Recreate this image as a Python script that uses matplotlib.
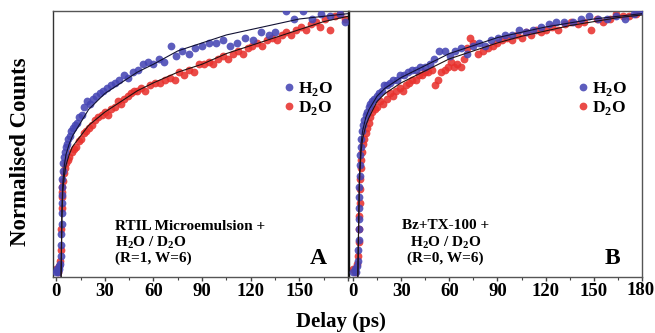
import matplotlib
matplotlib.use("Agg")
import matplotlib.pyplot as plt

plt.rcParams["font.family"] = ["Liberation Serif", "DejaVu Serif"]
plt.rcParams["font.weight"] = "bold"
plt.rcParams["mathtext.fontset"] = "custom"
plt.rcParams["mathtext.rm"] = "Liberation Serif:bold"
plt.rcParams["mathtext.bf"] = "Liberation Serif:bold"

# ---- panel A : RTIL microemulsion ----
tA_h2o = [0, 0.5, 1, 1.5, 2, 2.5, 3.0, 3.1, 3.2, 3.3, 3.4, 3.5, 3.6, 3.7, 3.8, 4.0, 4.3, 4.7,
          5.2, 5.8, 6.5, 7.3, 8.2, 9.2, 10.3, 11.5, 12.8, 14.2, 15.7, 17.3, 19, 20.8, 22.7,
          24.7, 26.8, 29, 31.3, 33.7, 36.2, 38.8, 41.5, 44.3, 47.2, 50.2, 53.3, 56.5, 59.8,
          63.2, 66.7, 71, 74, 77.8, 81.7, 85.7, 89.8, 94, 98.3, 102.7, 107.2, 111.8, 116.5,
          121.3, 126.2, 131.2, 135, 141.5, 146.8, 152.2, 157.7, 163.3, 169, 174.8, 178]
vA_h2o = [0.02, 0.03, 0.02, 0.04, 0.03, 0.05, 0.08, 0.12, 0.16, 0.20, 0.24, 0.28, 0.31, 0.34,
          0.37, 0.40, 0.43, 0.45, 0.47, 0.49, 0.50, 0.52, 0.53, 0.55, 0.56, 0.57, 0.58, 0.60,
          0.61, 0.64, 0.66, 0.65, 0.67, 0.68, 0.69, 0.70, 0.71, 0.72, 0.73, 0.74, 0.76, 0.75,
          0.77, 0.78, 0.80, 0.81, 0.80, 0.82, 0.81, 0.87, 0.83, 0.85, 0.84, 0.86, 0.87, 0.88,
          0.88, 0.89, 0.87, 0.88, 0.90, 0.89, 0.92, 0.91, 0.92, 1.00, 0.97, 1.00, 0.97, 0.99,
          0.98, 0.99, 0.96]
tA_d2o = [0, 1, 2, 2.6, 3.0, 3.2, 3.3, 3.4, 3.5, 3.7, 4.0, 4.5, 5.2, 6, 7, 8, 9.5, 11, 12.5,
          14, 15.5, 17, 18.5, 20, 22, 24, 26, 28, 30, 32, 34, 36, 38, 40, 42, 44, 46, 48, 50,
          52, 55, 58, 61, 64, 67, 70, 73, 76, 79, 82, 85, 88, 91, 94, 97, 100, 103, 106, 109,
          112, 115, 118, 121, 124, 127, 130, 133, 136, 139, 142, 145, 148, 151, 154, 157, 160,
          163, 166, 169, 172, 175, 178]
vA_d2o = [0.03, 0.02, 0.04, 0.06, 0.10, 0.18, 0.26, 0.30, 0.32, 0.34, 0.36, 0.39, 0.41, 0.43,
          0.44, 0.45, 0.47, 0.48, 0.49, 0.51, 0.52, 0.54, 0.55, 0.56, 0.57, 0.59, 0.60, 0.61,
          0.62, 0.61, 0.63, 0.64, 0.66, 0.65, 0.67, 0.68, 0.69, 0.70, 0.70, 0.71, 0.70, 0.72,
          0.73, 0.73, 0.74, 0.75, 0.74, 0.77, 0.76, 0.78, 0.77, 0.80, 0.80, 0.81, 0.80, 0.82,
          0.83, 0.82, 0.84, 0.85, 0.84, 0.86, 0.87, 0.88, 0.87, 0.89, 0.90, 0.89, 0.91, 0.92,
          0.91, 0.93, 0.94, 0.93, 0.95, 0.96, 0.94, 0.97, 0.93, 0.98, 0.99, 0.97]

# ---- panel B : Bz + TX-100 ----
tB_h2o = [0, 1, 2, 2.7, 3.2, 3.4, 3.5, 3.6, 3.7, 3.8, 3.9, 4.0, 4.1, 4.3, 4.5, 4.8, 5.2, 5.7,
          6.3, 7, 7.8, 8.7, 9.7, 10.8, 12, 13.3, 14.7, 16.2, 17.8, 19.5, 21.3, 23.2, 25.2,
          27.3, 29.5, 31.8, 34.2, 36.7, 39.3, 42, 44.8, 47.7, 50.7, 53.8, 57, 60.3, 63.7,
          67.2, 70.8, 74.5, 78.3, 82.2, 86.2, 90.3, 94.5, 98.8, 103.2, 107.7, 112.3, 117,
          121.8, 126.7, 131.7, 136.8, 142, 147.3, 152.7, 158.2, 163.8, 169.5, 175.3, 178.5]
vB_h2o = [0.02, 0.03, 0.02, 0.04, 0.06, 0.10, 0.14, 0.18, 0.22, 0.26, 0.30, 0.34, 0.38, 0.42,
          0.46, 0.49, 0.52, 0.55, 0.57, 0.59, 0.61, 0.62, 0.64, 0.65, 0.66, 0.67, 0.68, 0.69,
          0.70, 0.72, 0.72, 0.73, 0.74, 0.74, 0.76, 0.76, 0.77, 0.78, 0.78, 0.79, 0.79, 0.80,
          0.82, 0.85, 0.85, 0.83, 0.85, 0.86, 0.84, 0.87, 0.88, 0.87, 0.89, 0.90, 0.91, 0.91,
          0.93, 0.92, 0.93, 0.94, 0.95, 0.96, 0.96, 0.96, 0.97, 0.98, 0.97, 0.97, 0.98, 0.97,
          0.99, 1.00]
tB_d2o = [0, 1.5, 2.8, 3.3, 3.5, 3.7, 3.9, 4.1, 4.3, 4.5, 4.8, 5.2, 5.7, 6.3, 7, 7.8, 8.7,
          9.7, 10.8, 12, 13.5, 15, 17, 19, 21, 23, 25, 27, 29, 31, 33, 35, 37, 39, 41, 43, 45,
          47, 49, 51, 53, 55, 57, 59, 61, 63, 65, 67, 69, 71, 73, 75, 78, 81, 84, 87, 90, 93,
          96, 99, 102, 105, 108, 111, 114, 117, 120, 124, 128, 132, 136, 140, 144, 148, 152,
          156, 160, 164, 168, 172, 176]
vB_d2o = [0.03, 0.02, 0.05, 0.08, 0.13, 0.18, 0.23, 0.28, 0.33, 0.37, 0.41, 0.44, 0.47, 0.50,
          0.52, 0.54, 0.56, 0.58, 0.60, 0.62, 0.63, 0.64, 0.66, 0.65, 0.67, 0.69, 0.68, 0.70,
          0.71, 0.70, 0.72, 0.73, 0.74, 0.74, 0.76, 0.76, 0.77, 0.77, 0.78, 0.72, 0.74, 0.77,
          0.78, 0.79, 0.81, 0.79, 0.80, 0.79, 0.82, 0.86, 0.90, 0.88, 0.84, 0.85, 0.86, 0.87,
          0.88, 0.89, 0.90, 0.89, 0.91, 0.90, 0.92, 0.91, 0.93, 0.92, 0.93, 0.94, 0.93, 0.95,
          0.96, 0.95, 0.96, 0.93, 0.97, 0.96, 0.97, 0.99, 0.98, 0.98, 0.99]

# ---- fitted curves ----
t_fit = [3, 3.5, 4, 5, 6, 8, 10, 15, 20, 30, 40, 50, 60, 75, 90, 105, 120, 135, 150, 165, 180]
fitA_h2o = [0.0, 0.25, 0.35, 0.42, 0.46, 0.50, 0.53, 0.58, 0.63, 0.69, 0.73, 0.77, 0.80, 0.85,
            0.88, 0.91, 0.93, 0.95, 0.97, 0.98, 0.99]
fitA_d2o = [0.0, 0.22, 0.32, 0.38, 0.42, 0.46, 0.49, 0.53, 0.57, 0.62, 0.66, 0.70, 0.73, 0.77,
            0.80, 0.84, 0.87, 0.90, 0.93, 0.96, 0.98]
fitB_h2o = [0.0, 0.20, 0.38, 0.50, 0.55, 0.60, 0.63, 0.68, 0.71, 0.75, 0.78, 0.81, 0.84, 0.87,
            0.90, 0.92, 0.94, 0.955, 0.97, 0.98, 0.99]
fitB_d2o = [0.0, 0.18, 0.35, 0.47, 0.52, 0.57, 0.60, 0.66, 0.69, 0.73, 0.76, 0.79, 0.82, 0.85,
            0.88, 0.905, 0.925, 0.945, 0.96, 0.975, 0.985]

blue = "#4646b4"
red = "#e8322e"

fig = plt.figure(figsize=(6.55, 3.33), dpi=100)
axA = fig.add_axes([0.0809, 0.168, 0.4504, 0.799])
axB = fig.add_axes([0.5328, 0.168, 0.4473, 0.799])

panels = [
    (axA, tA_h2o, vA_h2o, tA_d2o, vA_d2o, fitA_h2o, fitA_d2o, (-2, 180)),
    (axB, tB_h2o, vB_h2o, tB_d2o, vB_d2o, fitB_h2o, fitB_d2o, (-2.5, 180)),
]
for ax, th, vh, td, vd, fh, fd, xl in panels:
    ax.plot(td, vd, "o", color=red, ms=5.6, mew=0, alpha=0.88, label="D$_2$O", zorder=2)
    ax.plot(th, vh, "o", color=blue, ms=5.6, mew=0, alpha=0.88, label="H$_2$O", zorder=3)
    ax.plot(t_fit, fh, color="#111133", lw=0.8, zorder=4)
    ax.plot(t_fit, fd, color="#221111", lw=0.8, zorder=4)
    ax.set_xlim(*xl)
    ax.set_ylim(0, 1.0)
    ax.set_yticks([])
    ax.set_xticks([0, 30, 60, 90, 120, 150, 180])
    ax.set_xticks([15, 45, 75, 105, 135, 165], minor=True)
    ax.tick_params(axis="x", which="major", direction="out", length=3, width=1,
                   labelsize=13.5, pad=1.5, color="#444444")
    ax.tick_params(axis="x", which="minor", direction="out", length=2, width=0.8,
                   color="#444444")
    for s in ax.spines.values():
        s.set_color("#555555")
        s.set_linewidth(1.0)
    h, l = ax.get_legend_handles_labels()
    ax.legend(h[::-1], l[::-1], loc="upper right", bbox_to_anchor=(0.985, 0.78),
              frameon=False, fontsize=12.5, handletextpad=0.0, handlelength=1.0,
              labelspacing=0.05, markerscale=1.0, borderaxespad=0.2)

axA.set_xticklabels(["0", "30", "60", "90", "120", "150", ""])
axB.set_xticklabels(["0", "30", "60", "90", "120", "150", ""])
axA.spines["left"].set_color("#333333")
axA.spines["right"].set_color("#111111")
axB.spines["left"].set_color("#111111")
# last label of B sits right at the figure edge, as in the original
axB.annotate("180", xy=(180, 0), xycoords=axB.get_xaxis_transform(),
             xytext=(12.5, -4.5), textcoords="offset pixels", ha="right", va="top",
             fontsize=13.5, annotation_clip=False)

fs = 11
axA.text(0.21, 0.19, "RTIL Microemulsion +", transform=axA.transAxes, fontsize=fs,
         va="center", ha="left")
axA.text(0.21, 0.13, "H$_2$O / D$_2$O", transform=axA.transAxes, fontsize=fs,
         va="center", ha="left")
axA.text(0.21, 0.07, "(R=1, W=6)", transform=axA.transAxes, fontsize=fs,
         va="center", ha="left")
axA.text(0.90, 0.07, "A", transform=axA.transAxes, fontsize=17, va="center", ha="center")

axB.text(0.33, 0.195, "Bz+TX-100 +", transform=axB.transAxes, fontsize=fs,
         va="center", ha="center")
axB.text(0.33, 0.13, "H$_2$O / D$_2$O", transform=axB.transAxes, fontsize=fs,
         va="center", ha="center")
axB.text(0.33, 0.07, "(R=0, W=6)", transform=axB.transAxes, fontsize=fs,
         va="center", ha="center")
axB.text(0.90, 0.07, "B", transform=axB.transAxes, fontsize=17, va="center", ha="center")

fig.text(0.032, 0.545, "Normalised Counts", rotation=90, fontsize=16.5, ha="center", va="center")
fig.text(0.521, 0.033, "Delay (ps)", fontsize=15, ha="center", va="center")

fig.savefig("out.png", dpi=100)
